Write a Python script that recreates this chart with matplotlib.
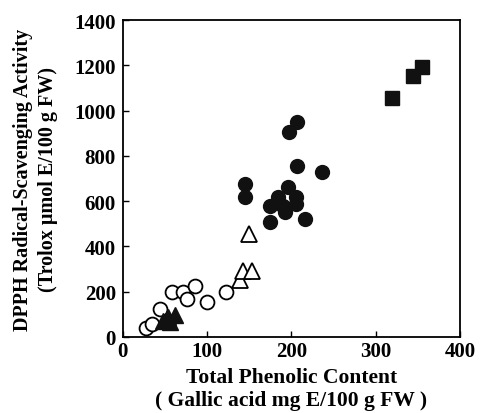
import matplotlib
matplotlib.use('Agg')
import matplotlib.pyplot as plt

# open circles
oc_x = [28, 34, 44, 58, 71, 76, 86, 100, 123]
oc_y = [38, 57, 124, 197, 200, 165, 224, 156, 197]
# filled circles
fc_x = [207, 197, 207, 236, 145, 145, 196, 184, 206, 175, 190, 206, 192, 175, 216]
fc_y = [948, 904, 754, 730, 676, 617, 661, 617, 617, 580, 580, 587, 551, 507, 521]
# open triangles
ot_x = [139, 143, 153, 150]
ot_y = [249, 293, 293, 455]
# filled triangles
ft_x = [48, 54, 56, 62]
ft_y = [71, 88, 66, 97]
# filled squares
fs_x = [319, 344, 355]
fs_y = [1056, 1154, 1193]

plt.rcParams['font.family'] = ['Liberation Serif', 'DejaVu Serif']
plt.rcParams['font.weight'] = 'bold'

fig = plt.figure(figsize=(4.8, 4.14), dpi=100)
ax = fig.add_axes([0.256, 0.184, 0.702, 0.765])

ax.plot(oc_x, oc_y, 'o', ms=10, mfc='white', mec='black', mew=1.3, ls='none')
ax.plot(fc_x, fc_y, 'o', ms=10, color='#111111', ls='none')
ax.plot(ot_x, ot_y, '^', ms=11, mfc='white', mec='black', mew=1.3, ls='none')
ax.plot(ft_x, ft_y, '^', ms=11, color='#111111', ls='none')
ax.plot(fs_x, fs_y, 's', ms=10.5, color='#111111', ls='none')

ax.set_xlim(0, 400)
ax.set_ylim(0, 1400)
ax.set_xticks([0, 100, 200, 300, 400])
ax.set_yticks(range(0, 1401, 200))
ax.tick_params(direction='in', length=4, width=1, labelsize=15)
ax.tick_params(axis='x', pad=3)
ax.tick_params(axis='y', pad=5)
for lab in ax.get_xticklabels() + ax.get_yticklabels():
    lab.set_fontweight('bold')
for s in ax.spines.values():
    s.set_linewidth(1.3)

ax.set_xlabel('Total Phenolic Content\n( Gallic acid mg E/100 g FW )',
              fontsize=15.5, fontweight='bold', linespacing=1.2, labelpad=4)
ax.set_ylabel('DPPH Radical-Scavenging Activity\n(Trolox \u03bcmol E/100 g FW)',
              fontsize=14.5, fontweight='bold', linespacing=1.3, labelpad=12)

fig.savefig('out.png', dpi=100)
